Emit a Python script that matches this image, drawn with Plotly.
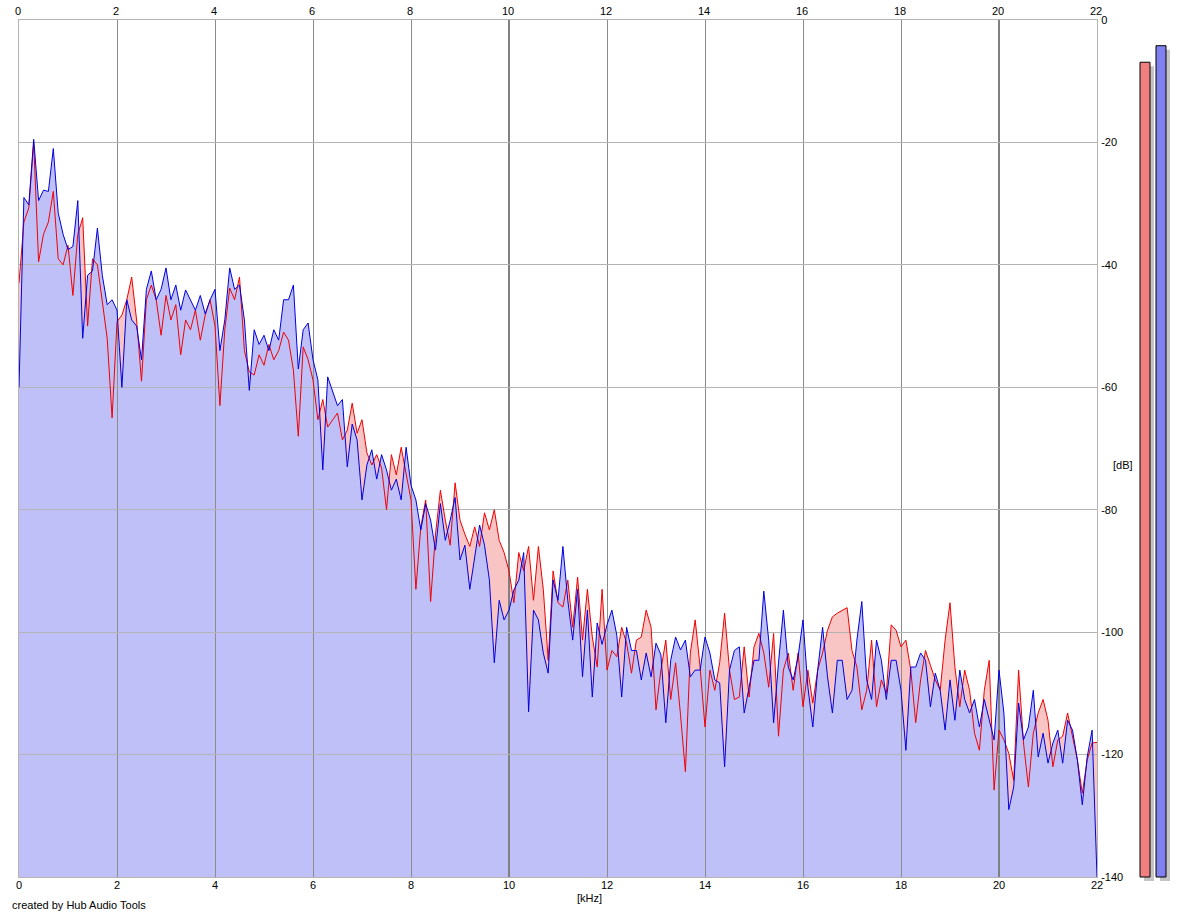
import plotly.graph_objects as go

# ---------------- data ----------------
freq_khz = [round(i * 0.1, 1) for i in range(221)]

left_db = [  # red channel
    -43, -33, -30.7, -20, -39.5, -35, -33, -28, -39, -40,
    -36.8, -45, -35, -32.3, -50, -39, -40, -45.7, -52, -65,
    -49.3, -48.2, -45.7, -42, -49, -59, -45.7, -43.3, -45.7, -51.5,
    -45, -49, -46.5, -54.7, -49, -50.6, -47.4, -52.3, -48.2, -45.7,
    -50, -63, -50.6, -43.8, -45.7, -42, -54, -57.5, -58, -54.7,
    -56.4, -53, -55.5, -54, -51, -52.3, -57.2, -68, -53.4, -55.5,
    -58.8, -65.3, -62, -66.5, -65.3, -64.2, -68.6, -67, -62.6, -67.5,
    -65.3, -70.7, -72.7, -71, -73.2, -80, -71, -74.3, -69.8, -74.3,
    -78.4, -93, -82.8, -78.4, -95, -84, -76.8, -81.7, -85.8, -75.6,
    -81.7, -84, -86, -82.8, -86, -80.5, -83.3, -80, -85, -87,
    -90, -95.2, -87, -90, -86, -94.8, -86, -93, -104.6, -90,
    -95.2, -95.9, -91.5, -99.2, -91, -101.3, -93, -100.8, -105.7, -93,
    -106.2, -103, -104, -99.2, -101.8, -106.7, -101.3, -100.8, -96.4, -99.2,
    -112.7, -106.2, -101.3, -111, -105, -113.5, -122.8, -103.4, -98, -105.7,
    -115.5, -106.2, -109.5, -105, -96.9, -106.2, -111, -110.6, -102.4, -110.6,
    -102.4, -100.2, -103.4, -109, -100.2, -117, -106.2, -103.4, -109.5, -103.4,
    -112.2, -106.2, -111.6, -106.2, -103.4, -99.7, -97.5, -96.9, -96.4, -96,
    -103, -105.7, -112.7, -109.5, -101.3, -112.2, -107.8, -110, -98.8, -99.7,
    -102.4, -101.3, -106.2, -114.8, -107.8, -103, -105.4, -107.8, -109.5, -101.3,
    -95.2, -105.7, -112.2, -106.2, -109.5, -116.5, -119.3, -109.5, -104.6, -125.8,
    -116, -117.6, -119.8, -124.2, -106.2, -118.1, -125.3, -116.5, -113.2, -111,
    -114.4, -122, -117.6, -117, -113.2, -117, -120.9, -126.3, -120.9, -118.1,
    -118,
]

right_db = [  # blue channel
    -60, -29, -30.2, -19.5, -29.5, -27.8, -28, -21, -31.5, -35,
    -37.5, -37, -29.5, -52, -41.7, -41, -34, -41.7, -46.5, -45.7,
    -47.4, -60, -45.7, -49, -50, -55.5, -44, -41, -45.7, -44,
    -40.5, -45.7, -43.3, -47.4, -44.1, -45.7, -47.4, -45, -48, -45.7,
    -44, -54, -49, -40.5, -44, -43.3, -49, -60.5, -50.6, -53,
    -51.5, -54, -50.6, -52.3, -45.7, -45.7, -43.3, -57, -50.6, -49.5,
    -55.5, -58.8, -73.5, -58.3, -60.5, -63, -62, -73, -66, -68.6,
    -78.4, -72.7, -70.2, -75, -71, -73.5, -76.8, -75, -78.4, -69.8,
    -76, -78.4, -83.3, -79, -81.7, -86.6, -79, -85, -81.7, -78,
    -88.2, -85.8, -93, -88, -82.5, -85.8, -91.5, -105, -94.8, -98,
    -96.4, -93.1, -91.5, -87, -113, -96.4, -98, -103.4, -106.7, -91.5,
    -94.8, -86, -94.8, -101.3, -93, -107.3, -96.4, -110.6, -98.5, -102,
    -98.8, -96.4, -100.5, -110.6, -99.2, -103, -103, -107.8, -103.4, -107.3,
    -101.8, -103.7, -114.8, -104.6, -100.8, -102.9, -101.3, -107.3, -106.2, -106.2,
    -100.8, -103.4, -107.8, -108.3, -122, -106.2, -103, -102.4, -113.2, -109,
    -104.6, -104.6, -93.3, -101.3, -114.8, -105, -96.4, -105.7, -107.8, -104,
    -98, -109, -115.5, -106.2, -99.2, -107.3, -113.2, -104.6, -104.6, -111,
    -109.5, -101.3, -95, -107.8, -111, -101.3, -104.6, -111, -104.6, -104.6,
    -109.5, -119.3, -105.7, -105.7, -103.4, -104.6, -112.2, -106.7, -109.5, -116,
    -107.8, -114.4, -106.2, -111, -113.2, -111, -115.5, -111, -114.4, -117.6,
    -106.2, -113.2, -129, -125.3, -111.6, -117.6, -115.5, -109.5, -120.4, -116.5,
    -121.4, -118.1, -116, -121.4, -114.4, -116, -120.9, -128.2, -120.4, -116,
    -140,
]

meter_channels = [0, 1]          # L, R
meter_db = [-6.9, -4.2]          # peak level meters

x_ticks = list(range(0, 23, 2))
y_ticks = list(range(0, -141, -20))
DB_FLOOR = -140

# ---------------- styling / geometry ----------------
FONT = dict(family="Liberation Sans, Arial, sans-serif", size=11, color="black")
PLOT_W, PLOT_H = 1158, 862          # plot area in px (margins below)
main_xdom = [0, 1078 / PLOT_W]
main_ydom = [5 / PLOT_H, 1]
px_per_db = 857 / 140
shadow_drop = 4 / px_per_db
shadow_shift = 0.25                 # meter shadow offset (4 px)

fig = go.Figure()

# --- fills (lower subplot: x / y) ---
fig.add_trace(go.Scatter(x=[freq_khz[0], freq_khz[-1]], y=[DB_FLOOR, DB_FLOOR],
                         mode="lines", line=dict(width=0), hoverinfo="skip",
                         xaxis="x", yaxis="y"))
fig.add_trace(go.Scatter(x=freq_khz, y=left_db, mode="none", fill="tonexty",
                         fillcolor="#f8c4c4", xaxis="x", yaxis="y"))
fig.add_trace(go.Scatter(x=[freq_khz[0], freq_khz[-1]], y=[DB_FLOOR, DB_FLOOR],
                         mode="lines", line=dict(width=0), hoverinfo="skip",
                         xaxis="x", yaxis="y"))
fig.add_trace(go.Scatter(x=freq_khz, y=right_db, mode="none", fill="tonexty",
                         fillcolor="#c0c0f8", xaxis="x", yaxis="y"))

# --- lines (upper subplot x2/y2 carries the grid; blue on overlay x4) ---
fig.add_trace(go.Scatter(x=freq_khz, y=left_db, mode="lines",
                         line=dict(color="#f00000", width=1), xaxis="x2", yaxis="y2"))
fig.add_trace(go.Scatter(x=freq_khz, y=right_db, mode="lines",
                         line=dict(color="#0000e0", width=1), xaxis="x4", yaxis="y2"))

# --- level meters ---
meter_len = [v - DB_FLOOR for v in meter_db]
fig.add_trace(go.Bar(x=[c + shadow_shift for c in meter_channels], y=meter_len,
                     base=DB_FLOOR - shadow_drop, width=0.625,
                     marker=dict(color="#c4c4c4", line=dict(width=0)),
                     xaxis="x5", yaxis="y3"))
fig.add_trace(go.Bar(x=meter_channels, y=meter_len, base=DB_FLOOR, width=0.625,
                     marker=dict(color=["#f08080", "#8080f0"],
                                 line=dict(color="black", width=1)),
                     xaxis="x5", yaxis="y3"))

hidden = dict(visible=False, showgrid=False, zeroline=False, automargin=False)

fig.update_layout(
    width=1180, height=917,
    margin=dict(l=19, r=3, t=20, b=35, autoexpand=False),
    paper_bgcolor="white", plot_bgcolor="rgba(0,0,0,0)",
    showlegend=False, hovermode=False, barmode="overlay",
    font=FONT,
    # fills subplot, its x axis provides the top labels
    xaxis=dict(domain=main_xdom, range=[0, 22], anchor="y", side="top",
               tickvals=x_ticks, ticktext=[str(v) for v in x_ticks],
               showgrid=False, zeroline=False, showline=False, ticks="",
               ticklabelstandoff=2, ticklabelshift=-1,
               tickfont=FONT, automargin=False),
    yaxis=dict(domain=main_ydom, range=[DB_FLOOR, 0], anchor="x", **hidden),
    # grid-carrying axis
    xaxis2=dict(domain=main_xdom, range=[0, 22], anchor="y2",
                tickvals=[0, 10, 20], showticklabels=False,
                showgrid=True, gridcolor="#808080", gridwidth=2,
                minor=dict(dtick=2, tick0=0, showgrid=True,
                           gridcolor="#8c8c8c", gridwidth=1, ticks=""),
                zeroline=False, ticks="",
                showline=True, linecolor="#b4b4b4", linewidth=1, mirror=True,
                automargin=False),
    yaxis2=dict(domain=main_ydom, range=[DB_FLOOR, 0], anchor="x2", side="right",
                tickvals=y_ticks, ticktext=[str(v) for v in y_ticks],
                showgrid=True, gridcolor="#b4b4b4", gridwidth=1,
                zeroline=False, ticks="", ticklabelstandoff=1,
                showline=True, linecolor="#b4b4b4", linewidth=1, mirror=True,
                tickfont=FONT, automargin=False),
    # bottom labels
    xaxis4=dict(overlaying="x2", anchor="y2", side="bottom", range=[0, 22],
                tickvals=x_ticks, ticktext=[str(v) for v in x_ticks],
                showgrid=False, zeroline=False, ticks="", tickfont=FONT,
                automargin=False),
    xaxis5=dict(domain=[1110 / PLOT_W, 1], range=[-1, 2], anchor="y3", **hidden),
    yaxis3=dict(domain=[0, 1], range=[DB_FLOOR - 5 / px_per_db, 0], anchor="x5", **hidden),
    annotations=[
        dict(text="[kHz]", x=570 / PLOT_W, y=-16 / PLOT_H, xref="paper", yref="paper",
             showarrow=False, xanchor="center", yanchor="middle", font=FONT),
        dict(text="[dB]", x=1104 / PLOT_W, y=417 / PLOT_H, xref="paper", yref="paper",
             showarrow=False, xanchor="center", yanchor="middle", font=FONT),
        dict(text="created by Hub Audio Tools", x=-9 / PLOT_W, y=-23 / PLOT_H,
             xref="paper", yref="paper", showarrow=False,
             xanchor="left", yanchor="middle", font=FONT),
    ],
)

fig.write_html("out.html")
